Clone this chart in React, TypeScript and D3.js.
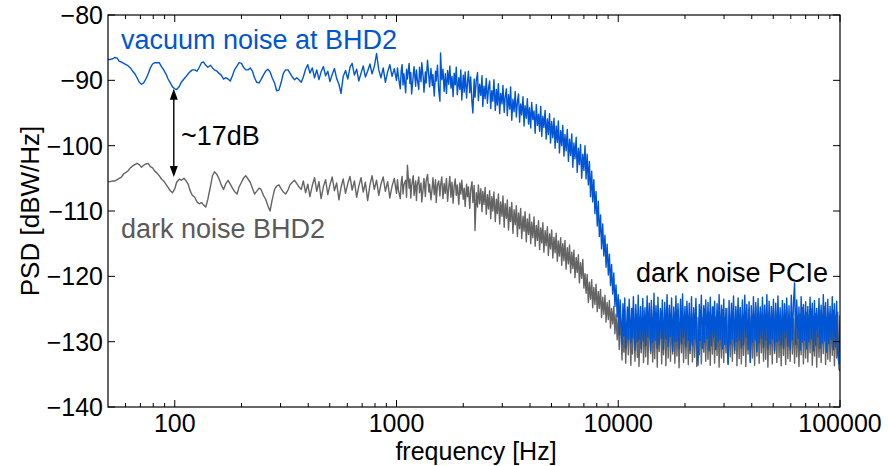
import React from 'react';
import * as d3 from 'd3';

// Frequency grid below 1 kHz (Hz)
const lowFrequencyHz: number[] = [
  50, 51.3, 52.5, 53.7, 55, 56.2, 57.5, 58.9, 60.3, 61.7, 63.1, 64.6, 66.1, 67.6, 69.2, 70.8, 72.4, 74.1, 75.9, 77.6, 79.4, 81.3, 83.2, 85.1, 87.1, 89.1, 91.2, 93.3, 95.5, 97.7,
  100, 102, 105, 107, 110, 112, 115, 117, 120, 123, 126, 129, 132, 135, 138, 141, 145, 148, 151, 155, 158, 162, 166, 170, 174, 178, 182, 186, 191, 195,
  200, 204, 209, 214, 219, 224, 229, 234, 240, 245, 251, 257, 263, 269, 275, 282, 288, 295, 302, 309, 316, 324, 331, 339, 347, 355, 363, 372, 380, 389,
  398, 407, 417, 427, 437, 447, 457, 468, 479, 490, 501, 513, 525, 537, 550, 562, 575, 589, 603, 617, 631, 646, 661, 676, 692, 708, 724, 741, 759, 776,
  794, 813, 832, 851, 871, 891, 912, 933, 955, 977,
];

// Frequency grid from 1 kHz to 100 kHz (Hz)
const highFrequencyHz: number[] = [
  1000, 1010, 1020, 1040, 1050, 1060, 1070, 1080, 1100, 1110, 1120, 1140, 1150, 1160, 1170, 1190, 1200, 1220, 1230, 1240,
  1260, 1270, 1290, 1300, 1320, 1330, 1350, 1360, 1380, 1400, 1410, 1430, 1450, 1460, 1480, 1500, 1510, 1530, 1550, 1570,
  1580, 1600, 1620, 1640, 1660, 1680, 1700, 1720, 1740, 1760, 1780, 1800, 1820, 1840, 1860, 1880, 1910, 1930, 1950, 1970,
  2000, 2020, 2040, 2070, 2090, 2110, 2140, 2160, 2190, 2210, 2240, 2260, 2290, 2320, 2340, 2370, 2400, 2430, 2450, 2480,
  2510, 2540, 2570, 2600, 2630, 2660, 2690, 2720, 2750, 2790, 2820, 2850, 2880, 2920, 2950, 2990, 3020, 3060, 3090, 3130,
  3160, 3200, 3240, 3270, 3310, 3350, 3390, 3430, 3470, 3510, 3550, 3590, 3630, 3670, 3720, 3760, 3800, 3850, 3890, 3940,
  3980, 4030, 4070, 4120, 4170, 4220, 4270, 4320, 4370, 4420, 4470, 4520, 4570, 4620, 4680, 4730, 4790, 4840, 4900, 4950,
  5010, 5070, 5130, 5190, 5250, 5310, 5370, 5430, 5500, 5560, 5620, 5690, 5750, 5820, 5890, 5960, 6030, 6100, 6170, 6240,
  6310, 6380, 6460, 6530, 6610, 6680, 6760, 6840, 6920, 7000, 7080, 7160, 7240, 7330, 7410, 7500, 7590, 7670, 7760, 7850,
  7940, 8040, 8130, 8220, 8320, 8410, 8510, 8610, 8710, 8810, 8910, 9020, 9120, 9230, 9330, 9440, 9550, 9660, 9770, 9890,
  10000, 10100, 10200, 10400, 10500, 10600, 10700, 10800, 11000, 11100, 11200, 11400, 11500, 11600, 11700, 11900, 12000, 12200, 12300, 12400,
  12600, 12700, 12900, 13000, 13200, 13300, 13500, 13600, 13800, 14000, 14100, 14300, 14500, 14600, 14800, 15000, 15100, 15300, 15500, 15700,
  15800, 16000, 16200, 16400, 16600, 16800, 17000, 17200, 17400, 17600, 17800, 18000, 18200, 18400, 18600, 18800, 19100, 19300, 19500, 19700,
  20000, 20200, 20400, 20700, 20900, 21100, 21400, 21600, 21900, 22100, 22400, 22600, 22900, 23200, 23400, 23700, 24000, 24300, 24500, 24800,
  25100, 25400, 25700, 26000, 26300, 26600, 26900, 27200, 27500, 27900, 28200, 28500, 28800, 29200, 29500, 29900, 30200, 30600, 30900, 31300,
  31600, 32000, 32400, 32700, 33100, 33500, 33900, 34300, 34700, 35100, 35500, 35900, 36300, 36700, 37200, 37600, 38000, 38500, 38900, 39400,
  39800, 40300, 40700, 41200, 41700, 42200, 42700, 43200, 43700, 44200, 44700, 45200, 45700, 46200, 46800, 47300, 47900, 48400, 49000, 49500,
  50100, 50700, 51300, 51900, 52500, 53100, 53700, 54300, 55000, 55600, 56200, 56900, 57500, 58200, 58900, 59600, 60300, 61000, 61700, 62400,
  63100, 63800, 64600, 65300, 66100, 66800, 67600, 68400, 69200, 70000, 70800, 71600, 72400, 73300, 74100, 75000, 75900, 76700, 77600, 78500,
  79400, 80400, 81300, 82200, 83200, 84100, 85100, 86100, 87100, 88100, 89100, 90200, 91200, 92300, 93300, 94400, 95500, 96600, 97700, 98900,
  100000,
];

// Vacuum noise at BHD2 (dBW/Hz), below 1 kHz
const vacuumLowDb: number[] = [
  -86.8, -86.8, -86.7, -86.5, -86.6, -87.1, -87.2, -87.4, -87.6, -87.8,
  -88.1, -88.6, -89.0, -89.6, -90.3, -90.6, -90.4, -89.8, -89.0, -88.1,
  -87.5, -87.3, -87.3, -87.3, -87.9, -88.4, -89.0, -89.8, -90.4, -91.0,
  -91.3, -91.4, -90.9, -90.3, -89.8, -89.5, -89.0, -88.7, -88.4, -88.4,
  -88.6, -88.0, -87.3, -87.2, -87.7, -88.0, -87.7, -88.1, -88.4, -88.6,
  -88.9, -89.2, -89.8, -89.6, -89.8, -90.1, -89.3, -88.4, -87.8, -87.3,
  -87.4, -88.0, -88.4, -88.4, -88.1, -88.6, -89.6, -90.3, -90.4, -89.9,
  -89.2, -88.6, -88.3, -88.7, -89.6, -90.4, -91.6, -91.5, -90.3, -88.9,
  -88.4, -88.4, -88.9, -89.5, -89.9, -89.6, -89.9, -90.3, -89.5, -88.3,
  -87.6, -88.9, -88.1, -89.6, -88.4, -89.9, -88.7, -87.9, -89.3, -88.6,
  -90.2, -89.1, -88.2, -89.7, -90.6, -92.0, -89.4, -88.5, -89.8, -88.0,
  -87.4, -89.2, -88.3, -90.1, -88.9, -87.8, -89.5, -88.6, -87.5, -89.0,
  -87.9, -85.9, -88.4, -89.6, -88.1, -90.3, -88.7, -87.6, -89.4, -88.2,
];

// Vacuum noise at BHD2 (dBW/Hz), 1 kHz to 100 kHz
const vacuumHighDb: number[] = [
  -90.0, -88.1, -89.4, -91.3, -88.5, -87.6, -90.7, -89.0, -91.9, -88.3,
  -89.8, -87.4, -90.5, -88.8, -92.1, -89.3, -87.9, -90.9, -88.4, -89.7,
  -91.4, -88.0, -90.2, -87.3, -89.6, -91.8, -88.7, -90.4, -86.9, -89.5,
  -91.0, -88.2, -90.8, -89.1, -92.4, -88.6, -90.1, -87.7, -91.5, -93.2,
  -85.8, -89.9, -88.3, -91.7, -89.0, -92.0, -88.5, -90.6, -87.8, -91.2,
  -89.4, -92.5, -88.9, -90.7, -88.0, -92.2, -89.6, -91.4, -88.4, -93.0,
  -89.2, -91.8, -88.7, -92.7, -90.3, -88.6, -91.9, -89.5, -93.4, -95.0,
  -89.8, -92.6, -90.0, -88.8, -93.1, -90.6, -92.3, -89.3, -94.0, -90.9,
  -92.8, -89.7, -93.5, -91.2, -90.1, -94.3, -91.6, -93.2, -89.9, -94.6,
  -91.4, -93.8, -90.5, -95.1, -92.0, -93.6, -90.8, -94.9, -92.6, -91.3,
  -95.4, -92.2, -94.4, -91.0, -96.1, -92.9, -94.8, -91.7, -95.6, -93.3,
  -92.1, -96.4, -93.6, -95.3, -92.5, -97.0, -93.9, -95.8, -92.8, -96.7,
  -94.2, -97.3, -93.4, -96.0, -94.7, -98.1, -93.7, -96.9, -95.2, -97.8,
  -94.0, -98.6, -95.5, -97.2, -94.6, -99.0, -95.9, -98.3, -95.1, -99.6,
  -96.3, -98.8, -95.8, -100.4, -97.0, -99.5, -96.2, -101.1, -97.7, -100.0,
  -96.9, -101.6, -98.3, -100.8, -97.5, -102.4, -99.0, -101.5, -98.2, -103.3,
  -99.6, -102.0, -98.7, -104.1, -100.4, -102.9, -99.8, -105.0, -101.3, -103.8,
  -100.0, -105.1, -101.3, -106.0, -102.4, -107.8, -103.9, -108.6, -105.2, -110.4,
  -107.0, -112.3, -108.5, -113.9, -110.6, -115.8, -112.0, -116.9, -113.7, -118.6,
  -115.1, -119.8, -116.6, -121.4, -118.2, -122.7, -119.5, -124.6, -121.3, -126.2,
  -122.8, -128.9, -123.6, -130.4, -124.2, -129.1, -123.3, -131.0, -124.7, -129.6,
  -123.5, -130.2, -124.9, -129.4, -123.1, -131.3, -124.3, -130.0, -122.9, -129.7,
  -124.6, -131.1, -123.4, -129.9, -124.8, -130.6, -123.0, -129.3, -124.1, -131.4,
  -123.7, -130.1, -122.6, -129.8, -124.5, -131.0, -123.2, -130.4, -124.9, -129.5,
  -123.6, -131.2, -124.0, -129.6, -122.8, -130.7, -124.4, -129.2, -123.3, -131.5,
  -124.7, -130.0, -123.0, -129.9, -124.2, -131.1, -123.5, -130.3, -122.7, -129.4,
  -124.6, -130.8, -123.8, -129.7, -124.1, -131.3, -123.1, -130.5, -124.8, -129.6,
  -123.4, -130.2, -133.6, -124.3, -129.8, -122.9, -131.0, -124.5, -130.1, -123.6,
  -129.5, -124.0, -131.4, -123.2, -130.6, -124.7, -129.3, -123.8, -131.2, -124.2,
  -130.0, -122.8, -129.7, -124.4, -131.1, -123.5, -130.4, -124.9, -129.9, -133.4,
  -123.7, -130.3, -124.1, -129.6, -123.0, -131.3, -124.6, -130.0, -123.3, -129.8,
  -124.8, -131.0, -123.6, -130.5, -122.9, -129.4, -124.3, -131.2, -123.9, -133.2,
  -124.5, -130.1, -123.1, -129.7, -124.0, -131.5, -123.4, -130.2, -124.7, -129.5,
  -123.2, -130.9, -124.4, -129.8, -122.8, -131.1, -123.8, -130.3, -124.6, -129.6,
  -123.5, -131.4, -124.1, -130.0, -123.0, -129.9, -124.8, -130.6, -123.7, -131.0,
  -124.2, -129.4, -123.3, -130.7, -124.5, -131.2, -122.9, -129.7, -124.0, -121.0,
  -130.4, -123.6, -129.5, -124.7, -131.3, -123.1, -130.1, -124.3, -129.8, -123.9,
  -131.1, -124.6, -130.0, -123.2, -129.6, -124.1, -131.4, -123.7, -130.5, -124.9,
  -129.3, -123.4, -131.0, -124.4, -130.2, -122.8, -129.9, -124.0, -131.6, -123.5,
  -130.3, -124.6, -129.7, -123.1, -131.2, -124.2, -130.8, -123.8, -132.0, -133.4,
  -126.0,
];

// Dark noise of BHD2 (dBW/Hz), below 1 kHz
const darkLowDb: number[] = [
  -105.5, -105.5, -105.4, -105.4, -105.2, -105.0, -104.8, -104.3, -104.1, -103.8,
  -103.4, -103.1, -102.9, -102.7, -102.9, -103.3, -103.0, -102.8, -102.7, -103.2,
  -103.4, -103.9, -104.2, -104.6, -105.1, -105.4, -105.9, -106.4, -106.9, -107.2,
  -106.6, -105.6, -105.1, -105.3, -105.0, -105.3, -105.9, -106.8, -107.6, -107.9,
  -108.6, -108.9, -108.7, -109.1, -109.4, -108.2, -106.2, -104.6, -104.0, -104.4,
  -105.0, -106.0, -106.7, -105.8, -105.3, -105.9, -106.5, -107.0, -107.4, -106.3,
  -105.6, -105.0, -104.6, -105.1, -105.6, -106.5, -107.4, -107.0, -106.5, -106.7,
  -107.6, -108.2, -109.2, -110.0, -108.3, -106.7, -106.2, -106.0, -106.6, -107.1,
  -107.4, -106.8, -106.0, -105.6, -105.3, -105.8, -106.3, -106.7, -105.4, -107.2,
  -105.9, -107.8, -106.1, -104.9, -107.0, -105.5, -108.1, -106.3, -105.2, -107.5,
  -106.0, -104.8, -106.9, -105.7, -108.3, -106.4, -105.1, -107.3, -105.8, -104.7,
  -106.8, -105.4, -107.9, -106.2, -104.9, -107.1, -105.6, -108.4, -106.0, -104.6,
  -106.7, -105.3, -107.6, -105.9, -104.8, -107.0, -105.5, -108.0, -106.2, -105.0,
];

// Dark noise of BHD2 (dBW/Hz), 1 kHz to 100 kHz
const darkHighDb: number[] = [
  -107.3, -105.2, -106.8, -108.1, -105.6, -104.7, -107.4, -106.0, -105.3, -107.9,
  -103.0, -106.5, -105.1, -108.0, -106.2, -104.6, -107.6, -105.4, -108.4, -106.1,
  -104.8, -107.2, -105.7, -108.6, -106.4, -105.0, -107.8, -105.5, -104.4, -107.1,
  -105.9, -108.3, -106.3, -104.9, -107.5, -105.2, -108.7, -106.0, -105.4, -107.7,
  -106.1, -104.8, -108.1, -105.8, -107.3, -105.0, -108.5, -106.4, -104.7, -107.9,
  -105.6, -108.8, -106.2, -105.1, -107.6, -106.0, -109.0, -105.7, -107.4, -105.3,
  -108.2, -106.5, -109.3, -105.9, -107.8, -106.3, -109.6, -106.8, -105.5, -108.7,
  -106.1, -113.0, -107.2, -109.4, -106.0, -108.9, -106.6, -110.1, -107.0, -109.0,
  -106.4, -110.5, -107.5, -109.7, -106.9, -111.2, -107.8, -110.0, -107.1, -111.6,
  -108.2, -110.4, -107.4, -112.0, -108.6, -110.8, -107.7, -112.5, -108.9, -111.1,
  -108.3, -112.9, -109.4, -111.6, -108.7, -113.4, -109.8, -112.1, -109.2, -113.9,
  -110.3, -112.7, -109.6, -114.2, -110.8, -113.1, -110.1, -114.7, -111.2, -113.6,
  -110.5, -115.0, -111.7, -114.1, -110.9, -115.4, -112.2, -114.5, -111.5, -115.9,
  -112.6, -114.9, -111.8, -116.3, -113.0, -115.3, -112.4, -116.8, -113.5, -115.8,
  -112.9, -117.2, -114.0, -116.4, -113.4, -117.7, -114.6, -116.9, -114.1, -118.3,
  -115.0, -117.6, -114.5, -118.9, -115.6, -118.1, -115.2, -119.5, -116.3, -118.8,
  -116.0, -120.2, -117.1, -119.4, -116.7, -121.0, -117.9, -120.3, -117.4, -121.8,
  -119.6, -122.6, -119.7, -124.0, -120.9, -123.5, -120.5, -124.8, -121.7, -124.3,
  -121.2, -125.4, -122.3, -124.9, -122.0, -126.3, -123.2, -125.8, -122.9, -127.0,
  -124.0, -126.6, -123.7, -127.9, -124.9, -127.3, -124.6, -128.8, -125.8, -129.7,
  -126.1, -131.2, -125.5, -132.8, -126.4, -131.6, -125.0, -133.3, -126.7, -132.0,
  -125.3, -133.6, -126.0, -131.9, -124.8, -133.0, -126.5, -132.4, -125.7, -133.8,
  -126.2, -131.7, -125.1, -133.2, -126.8, -132.3, -125.4, -133.5, -126.0, -131.8,
  -124.7, -133.1, -126.3, -132.6, -125.6, -133.9, -126.1, -131.5, -125.2, -133.4,
  -126.6, -132.0, -125.0, -133.7, -126.2, -132.5, -124.9, -133.0, -126.4, -131.9,
  -125.5, -133.3, -126.7, -132.2, -125.1, -134.0, -126.0, -131.7, -124.8, -133.2,
  -126.5, -132.6, -125.3, -133.5, -126.1, -131.8, -125.7, -133.1, -126.8, -132.4,
  -124.6, -133.8, -126.3, -132.0, -125.2, -133.4, -126.4, -131.6, -125.0, -133.0,
  -126.6, -132.7, -125.5, -133.6, -126.0, -131.9, -124.7, -133.3, -126.2, -132.1,
  -125.4, -133.9, -126.7, -132.5, -125.1, -133.2, -126.3, -131.7, -124.9, -133.5,
  -126.1, -132.3, -125.6, -133.0, -126.5, -131.8, -125.2, -133.7, -126.0, -132.6,
  -124.8, -133.4, -126.4, -132.1, -125.3, -133.8, -126.6, -131.9, -125.0, -133.1,
  -126.2, -132.5, -125.7, -133.6, -124.6, -132.2, -126.3, -133.3, -125.4, -131.7,
  -126.8, -133.0, -125.1, -132.7, -126.0, -133.9, -125.5, -132.0, -126.4, -133.4,
  -124.9, -131.8, -126.1, -133.2, -125.6, -132.4, -126.7, -133.7, -125.2, -132.1,
  -126.3, -133.5, -124.7, -132.6, -126.0, -133.0, -125.4, -131.9, -126.5, -133.3,
  -125.1, -132.3, -126.6, -133.8, -125.8, -132.0, -124.8, -133.4, -126.2, -132.5,
  -125.5, -133.1, -126.4, -131.7, -125.0, -133.6, -126.1, -132.2, -125.7, -133.9,
  -126.8, -132.4, -125.3, -133.2, -126.0, -131.8, -124.6, -133.5, -126.3, -132.7,
  -125.6, -133.0, -126.5, -132.1, -125.2, -133.7, -126.0, -132.5, -125.5, -134.2,
  -134.5,
];

const yTickValues = [-140, -130, -120, -110, -100, -90, -80];
const xTickValues = [100, 1000, 10000, 100000];
const xTickLabels = ['100', '1000', '10000', '100000'];
const xMinorDecades = [10, 100, 1000, 10000];
const xMinorMultipliers = [2, 3, 4, 5, 6, 7, 8, 9];

// Annotation: ~17dB arrow between the two curves at ~100 Hz
const arrowFrequencyHz = 99;
const arrowFromDb = -91.3;
const arrowToDb = -104.8;

const BLUE = '#0055D4';
const GRAY = '#646464';
const FONT = '"Liberation Sans", Arial, Helvetica, sans-serif';

function zip(f: number[], v: number[]): [number, number][] {
  const out: [number, number][] = [];
  const n = Math.min(f.length, v.length);
  for (let i = 0; i < n; i++) out.push([f[i], v[i]]);
  return out;
}

export default function App() {
  const W = 888;
  const H = 466;
  const left = 108, right = 840, top = 15, bottom = 407;

  const x = d3.scaleLog().domain([50, 100000]).range([left, right]);
  const y = d3.scaleLinear().domain([-140, -80]).range([bottom, top]);

  const vac = zip(lowFrequencyHz, vacuumLowDb).concat(zip(highFrequencyHz, vacuumHighDb));
  const dark = zip(lowFrequencyHz, darkLowDb).concat(zip(highFrequencyHz, darkHighDb));

  const line = d3
    .line<[number, number]>()
    .x((d) => x(d[0]))
    .y((d) => y(d[1]));

  const minor: number[] = [];
  xMinorDecades.forEach((d) =>
    xMinorMultipliers.forEach((m) => {
      const v = d * m;
      if (v > 50 && v < 100000) minor.push(v);
    })
  );

  const tickFont = 25;
  const labelFont = 25;
  const annFont = 27;

  const ax = x(arrowFrequencyHz);
  const ay1 = y(arrowFromDb);
  const ay2 = y(arrowToDb);
  const ah = 11;
  const aw = 4;

  return (
    <svg
      width={W}
      height={H}
      viewBox={`0 0 ${W} ${H}`}
      style={{ position: 'absolute', left: 0, top: 0, display: 'block', background: '#fff' }}
      fontFamily={FONT}
    >
      <defs>
        <clipPath id="plotClip">
          <rect x={left} y={top} width={right - left} height={bottom - top} />
        </clipPath>
      </defs>
      <rect x={0} y={0} width={W} height={H} fill="#fff" />

      <g clipPath="url(#plotClip)">
        <path d={line(dark) || ''} fill="none" stroke={GRAY} strokeWidth={1.4} strokeLinejoin="round" />
        <path d={line(vac) || ''} fill="none" stroke={BLUE} strokeWidth={1.4} strokeLinejoin="round" />
      </g>

      {/* axes box */}
      <rect x={left} y={top} width={right - left} height={bottom - top} fill="none" stroke="#000" strokeWidth={1.2} />

      {/* y ticks */}
      {yTickValues.map((v) => (
        <g key={'y' + v}>
          <line x1={left} x2={left + 7} y1={y(v)} y2={y(v)} stroke="#000" strokeWidth={1} />
          <line x1={right} x2={right - 7} y1={y(v)} y2={y(v)} stroke="#000" strokeWidth={1} />
          <text x={left - 5} y={y(v)} dy="0.36em" textAnchor="end" fontSize={tickFont} fill="#000">
            {'\u2212' + Math.abs(v)}
          </text>
        </g>
      ))}

      {/* x major ticks */}
      {xTickValues.map((v, i) => (
        <g key={'x' + v}>
          <line x1={x(v)} x2={x(v)} y1={bottom} y2={bottom - 7} stroke="#000" strokeWidth={1} />
          <line x1={x(v)} x2={x(v)} y1={top} y2={top + 7} stroke="#000" strokeWidth={1} />
          <text x={x(v)} y={bottom + 25} textAnchor="middle" fontSize={tickFont} fill="#000">
            {xTickLabels[i]}
          </text>
        </g>
      ))}
      {/* x minor ticks */}
      {minor.map((v) => (
        <g key={'m' + v}>
          <line x1={x(v)} x2={x(v)} y1={bottom} y2={bottom - 4} stroke="#000" strokeWidth={1} />
          <line x1={x(v)} x2={x(v)} y1={top} y2={top + 4} stroke="#000" strokeWidth={1} />
        </g>
      ))}

      {/* axis labels */}
      <text x={(left + right) / 2 + 2} y={460} textAnchor="middle" fontSize={labelFont} fill="#000">
        frequency [Hz]
      </text>
      <text
        transform={`translate(39, ${(top + bottom) / 2}) rotate(-90)`}
        textAnchor="middle"
        fontSize={labelFont + 1}
        fill="#000"
      >
        PSD [dBW/Hz]
      </text>

      {/* annotations */}
      <text x={121} y={49} fontSize={annFont} fill={BLUE}>vacuum noise at BHD2</text>
      <text x={121} y={238} fontSize={annFont} fill="#5a5a5a">dark noise BHD2</text>
      <text x={636} y={282} fontSize={annFont} fill="#000">dark noise PCIe</text>
      <text x={181} y={145} fontSize={annFont} fill="#000">~17dB</text>

      {/* double arrow */}
      <line x1={ax} x2={ax} y1={ay1 + ah - 1} y2={ay2 - ah + 1} stroke="#000" strokeWidth={1.4} />
      <path d={`M${ax},${ay1} L${ax - aw},${ay1 + ah} L${ax + aw},${ay1 + ah} Z`} fill="#000" />
      <path d={`M${ax},${ay2} L${ax - aw},${ay2 - ah} L${ax + aw},${ay2 - ah} Z`} fill="#000" />
    </svg>
  );
}
